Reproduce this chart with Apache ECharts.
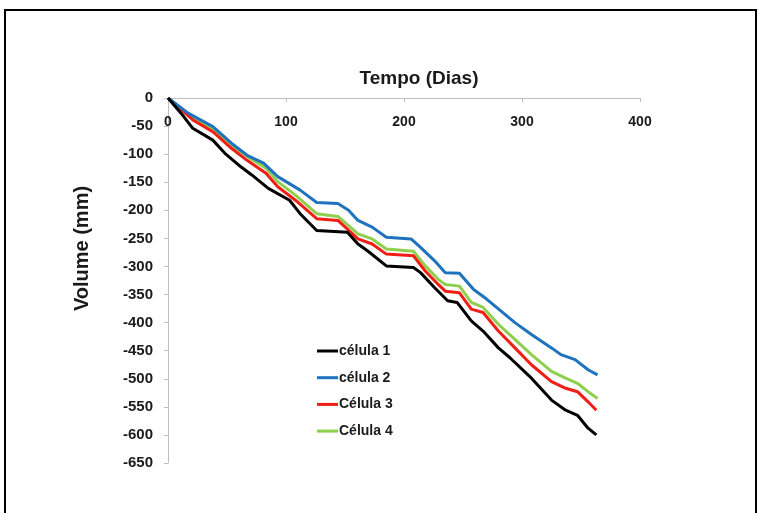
<!DOCTYPE html>
<html>
<head>
<meta charset="utf-8">
<script src="https://cdn.jsdelivr.net/npm/echarts@6/dist/echarts.min.js"></script>
<style>
html,body{margin:0;padding:0;background:#fff;}
#c{width:759px;height:513px;}
</style>
</head>
<body>
<div id="c"></div>
<script>
// ---- data ----
var seriesNames = ['célula 1', 'célula 2', 'Célula 3', 'Célula 4'];
var xTicks = [0, 100, 200, 300, 400];
var yTicks = [0, -50, -100, -150, -200, -250, -300, -350, -400, -450, -500, -550, -600, -650];

var days1 = [0, 11, 21, 38, 48, 62, 71, 85, 103, 112, 126, 152, 161, 169, 185, 208, 214, 226, 237, 245, 257, 267, 280, 290, 308, 325, 337, 347, 356, 363];
var vol1  = [0, -27, -54, -75, -98, -123, -137, -161, -182, -206, -236, -239, -260, -272, -299, -302, -311, -338, -361, -364, -397, -415, -445, -463, -499, -538, -556, -565, -588, -600];

var days2 = [0, 17, 38, 54, 67, 81, 93, 112, 126, 144, 153, 161, 173, 185, 206, 214, 226, 235, 247, 259, 270, 282, 294, 308, 325, 333, 345, 356, 364];
var vol2  = [0, -27, -51, -81, -102, -116, -140, -164, -186, -188, -200, -218, -230, -248, -251, -266, -290, -311, -312, -341, -358, -379, -400, -421, -445, -457, -466, -484, -493];

var days3 = [0, 21, 38, 54, 67, 83, 93, 108, 126, 144, 161, 173, 185, 208, 218, 229, 235, 247, 257, 267, 280, 294, 308, 325, 337, 347, 356, 363];
var vol3  = [0, -39, -60, -90, -111, -134, -158, -182, -215, -218, -251, -260, -278, -281, -308, -332, -344, -347, -376, -382, -415, -445, -475, -505, -517, -523, -541, -556];

var days4 = [0, 21, 38, 54, 67, 83, 93, 108, 126, 144, 161, 173, 185, 208, 218, 229, 235, 247, 257, 267, 280, 294, 308, 325, 337, 347, 356, 364];
var vol4  = [0, -34, -55, -84, -104, -125, -149, -173, -206, -211, -242, -251, -269, -273, -299, -323, -332, -335, -364, -373, -403, -430, -457, -487, -499, -508, -523, -535];

var colors = ['#000000', '#1f72bd', '#f01e14', '#8fcf4e'];

function pairs(xs, ys){ return xs.map(function(x,i){ return [x, ys[i]]; }); }
var allDays = [days1, days2, days3, days4];
var allVols = [vol1, vol2, vol3, vol4];

var chart = echarts.init(document.getElementById('c'));

chart.setOption({
  animation: false,
  backgroundColor: '#ffffff',
  color: colors,
  graphic: [{
    type: 'rect',
    shape: { x: 5, y: 10, width: 751, height: 520 },
    style: { fill: 'none', stroke: '#000', lineWidth: 2 },
    z: 0
  }],
  grid: { left: 168, top: 98, width: 472, height: 365, containLabel: false },
  legend: {
    orient: 'vertical',
    left: 312,
    top: 339,
    itemWidth: 21,
    itemHeight: 3,
    itemGap: 12.7,
    icon: 'rect',
    data: seriesNames,
    textStyle: { fontFamily: 'Liberation Sans', fontWeight: 'bold', fontSize: 14, color: '#1a1a1a', padding: [0,0,0,-4] }
  },
  xAxis: {
    type: 'value',
    position: 'top',
    min: 0, max: 400, interval: 100,
    name: 'Tempo (Dias)',
    nameLocation: 'middle',
    nameGap: 10,
    nameTextStyle: { fontFamily: 'Liberation Sans', fontWeight: 'bold', fontSize: 19, color: '#1a1a1a', padding: [0,0,0,30] },
    axisLine: { show: true, onZero: false, lineStyle: { color: '#bfbfbf', width: 1 } },
    axisTick: { show: true, inside: true, length: 4, lineStyle: { color: '#bfbfbf' } },
    axisLabel: { inside: true, margin: 17, fontFamily: 'Liberation Sans', fontWeight: 'bold', fontSize: 14, color: '#1a1a1a',
      formatter: function(v){ return xTicks.indexOf(v) >= 0 ? String(v) : ''; } },
    splitLine: { show: false }
  },
  yAxis: {
    type: 'value',
    min: -650, max: 0, interval: 50,
    name: 'Volume (mm)',
    nameLocation: 'middle',
    nameRotate: 90,
    nameGap: 76,
    nameTextStyle: { fontFamily: 'Liberation Sans', fontWeight: 'bold', fontSize: 20, color: '#1a1a1a', padding: [0,0,0,64] },
    axisLine: { show: true, onZero: false, lineStyle: { color: '#bfbfbf', width: 1 } },
    axisTick: { show: true, inside: false, length: 4, lineStyle: { color: '#bfbfbf' } },
    axisLabel: { margin: 15, fontFamily: 'Liberation Sans', fontWeight: 'bold', fontSize: 15, color: '#1a1a1a',
      formatter: function(v){ return yTicks.indexOf(v) >= 0 ? String(v) : ''; } },
    splitLine: { show: false }
  },
  series: seriesNames.map(function(n, i){
    return {
      name: n,
      type: 'line',
      data: pairs(allDays[i], allVols[i]),
      showSymbol: false,
      symbol: 'none',
      lineStyle: { width: 3, color: colors[i] },
      itemStyle: { color: colors[i] },
      z: 10 - i
    };
  })
});
</script>
</body>
</html>
